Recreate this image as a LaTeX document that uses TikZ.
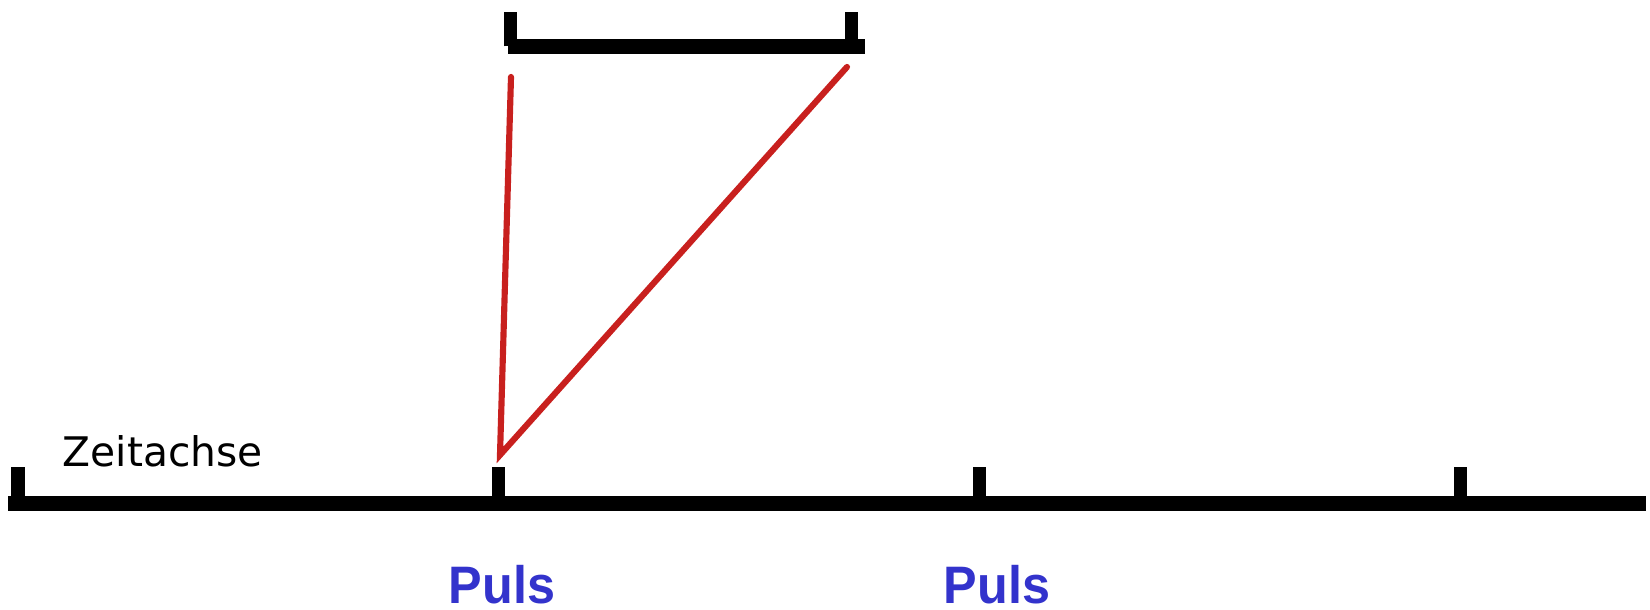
\documentclass[tikz,border=0pt]{standalone}
\usepackage{fontspec}
\setmainfont{DejaVu Sans}
\newfontfamily\pulsfont{Liberation Sans}
\usetikzlibrary{positioning}

\definecolor{pulsblue}{HTML}{3333CC}
\definecolor{rayred}{HTML}{C8201E}

\tikzset{
    axisline/.style={line width=4.1pt},
    tickline/.style={line width=3.7pt},
    rayline/.style={rayred,line width=1.75pt,line cap=round},
    pulslabel/.style={anchor=base,inner sep=0pt,text=pulsblue,xscale=0.955,
        font=\pulsfont\bfseries\fontsize{15}{18}\selectfont}
}

\begin{document}
\begin{tikzpicture}
    \useasboundingbox (0,0) rectangle (16.5,6.1);

    % Time axis
    \draw[axisline] (0.08,1.065) -- (16.46,1.065);
    \foreach \x in {0.18,4.98,9.79,14.6} {
        \draw[tickline] (\x,1.065) -- (\x,1.43);
    }
    \node[anchor=base west,inner sep=0pt,font=\fontsize{11.6}{14}\selectfont]
        (zeit) at (0.62,1.43) {Zeitachse};

    % Pulses
    \node[pulslabel] (puls1) at (5.02,0.06) {Puls};
    \node[pulslabel] (puls2) at (9.97,0.06) {Puls};

    % Interval bracket
    \draw[axisline] (5.08,5.635) -- (8.65,5.635);
    \draw[tickline] (5.10,5.635) -- (5.10,5.98);
    \draw[tickline] (8.515,5.635) -- (8.515,5.98);

    % Rays
    \coordinate (tip) at (5.0,1.55);
    \coordinate (rayleft) at (5.11,5.33);
    \coordinate (rayright) at (8.47,5.43);
    \draw[rayline] (rayleft) -- (tip) -- (rayright);
\end{tikzpicture}
\end{document}
